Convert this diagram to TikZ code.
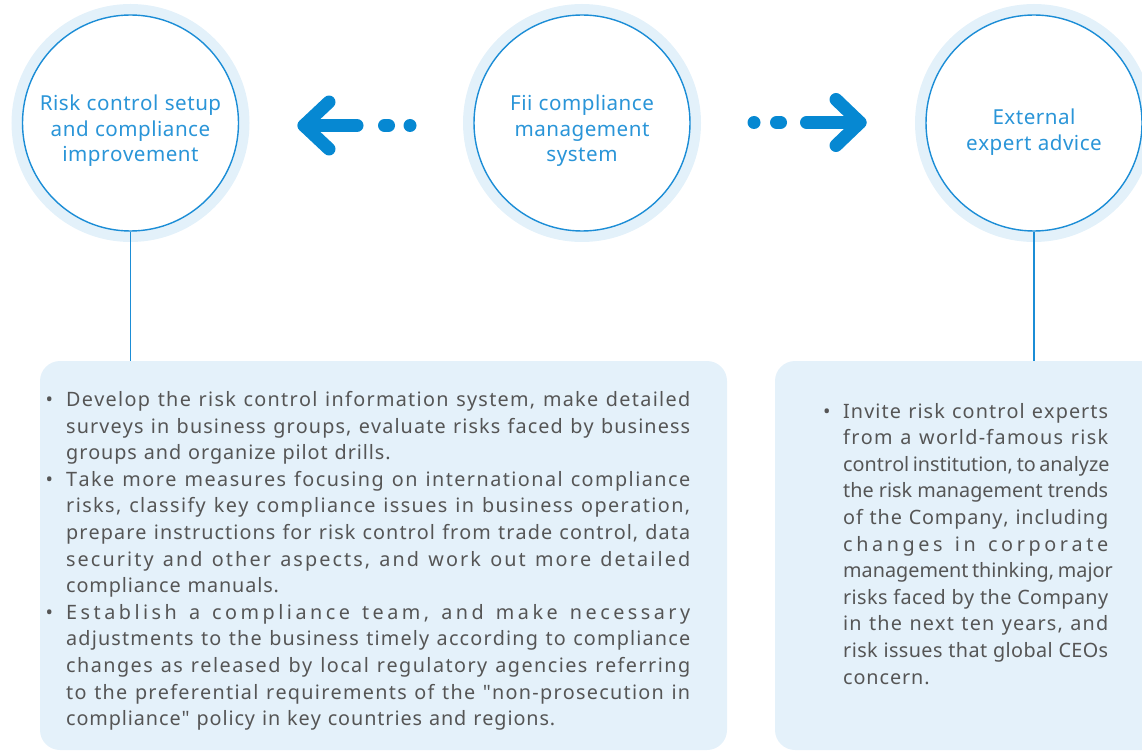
\documentclass[tikz,border=0pt]{standalone}
\usepackage{fontspec}
\setmainfont{Noto Sans}[Ligatures=TeXOff]
\definecolor{mainblue}{HTML}{0688D2}
\definecolor{ringblue}{HTML}{1B8DD6}
\definecolor{halo}{HTML}{E3F1FA}
\definecolor{boxfill}{HTML}{E4F1FA}
\definecolor{titleblue}{HTML}{2A95D8}
\definecolor{txtgray}{HTML}{555555}
\ExplSyntaxOn
\NewDocumentCommand\jline{m m}{\hbox to #1{\hfilneg \str_map_inline:nn {#2} {\hfil ##1}}}
\NewDocumentCommand\tline{O{0.9pt} m}{\str_map_inline:nn {#2} {##1\kern #1\relax}\kern -#1\relax}
\ExplSyntaxOff
\tikzset{
  ring/.style={circle, minimum size=216pt, inner sep=0pt, draw=ringblue, line width=1.4pt, fill=white,
    preaction={draw=halo, line width=22pt}},
  title/.style={align=center, text=titleblue, font=\fontsize{20.6}{25.5}\selectfont, inner sep=0pt},
  infobox/.style={rectangle, rounded corners=20pt, fill=boxfill, inner sep=0pt},
  body/.style={anchor=base west, text=txtgray, font=\fontsize{19.8}{24}\selectfont, inner sep=0pt},
  stem/.style={draw=ringblue, line width=1.2pt},
  arr/.style={draw=mainblue, line width=13pt, line cap=round, line join=round},
}
\begin{document}
\begin{tikzpicture}[x=1pt,y=-1pt]
\useasboundingbox (0,0) rectangle (1142,751);
% boxes
\node[infobox, minimum width=687pt, minimum height=389pt] (lbox) at (383.5,555.5) {};
\node[infobox, minimum width=387pt, minimum height=389pt] (rbox) at (968.5,555.5) {};
% circles
\node[ring] (lc) at (130.5,123) {};
\node[ring] (mc) at (582,123) {};
\node[ring] (rc) at (1034,123) {};
\node[title] (lt) at (130.5,131) {\tline[0.5pt]{Risk control setup}\\\tline[0.5pt]{and compliance}\\\tline[0.5pt]{improvement}};
\node[title] (mt) at (582,131) {\tline[0.5pt]{Fii compliance}\\\tline[0.5pt]{management}\\\tline[0.5pt]{system}};
\node[title] (rt) at (1034,132) {\tline[0.5pt]{External}\\\tline[0.5pt]{expert advice}};
% stems
\draw[stem] (lc.south) -- (lc.south |- lbox.north);
\draw[stem] (rc.south) -- (rc.south |- rbox.north);
% left arrow
\coordinate (la1) at (304,125.5);
\coordinate (la2) at (357,125.5);
\coordinate (la3) at (329,102);
\coordinate (la4) at (329,149);
\coordinate (ld1) at (384.5,125.5);
\coordinate (ld2) at (388.5,125.5);
\coordinate (ldot) at (410,125.5);
\draw[arr] (la2) -- (la1);
\draw[arr] (la3) -- (la1) -- (la4);
\draw[arr] (ld1) -- (ld2);
\fill[mainblue] (ldot) circle (6.5pt);
% right arrow
\coordinate (ra1) at (860,122.5);
\coordinate (ra2) at (806.5,122.5);
\coordinate (ra3) at (836,99.5);
\coordinate (ra4) at (836,145.5);
\coordinate (rd1) at (776.5,122.5);
\coordinate (rd2) at (780.5,122.5);
\coordinate (rdot) at (754,122.5);
\draw[arr] (ra2) -- (ra1);
\draw[arr] (ra3) -- (ra1) -- (ra4);
\draw[arr] (rd1) -- (rd2);
\fill[mainblue] (rdot) circle (6.5pt);
% left text
\node[body] (b1) at (45.5,406.5) {•};
\node[body] (b2) at (45.5,486.3) {•};
\node[body] (b3) at (45.5,619.3) {•};
\node[body] (l1) at (66,406.5) {\jline{624pt}{Develop the risk control information system, make detailed}};
\node[body] (l2) at (66,433.1) {\jline{624pt}{surveys in business groups, evaluate risks faced by business}};
\node[body] (l3) at (66,459.7) {\tline{groups and organize pilot drills.}};
\node[body] (l4) at (66,486.3) {\jline{624pt}{Take more measures focusing on international compliance}};
\node[body] (l5) at (66,512.9) {\jline{624pt}{risks, classify key compliance issues in business operation,}};
\node[body] (l6) at (66,539.5) {\jline{624pt}{prepare instructions for risk control from trade control, data}};
\node[body] (l7) at (66,566.1) {\jline{624pt}{security and other aspects, and work out more detailed}};
\node[body] (l8) at (66,592.7) {\tline{compliance manuals.}};
\node[body] (l9) at (66,619.3) {\jline{624pt}{Establish a compliance team, and make necessary}};
\node[body] (l10) at (66,645.9) {\jline{624pt}{adjustments to the business timely according to compliance}};
\node[body] (l11) at (66,672.5) {\jline{624pt}{changes as released by local regulatory agencies referring}};
\node[body] (l12) at (66,699.1) {\jline{624pt}{to the preferential requirements of the "non-prosecution in}};
\node[body] (l13) at (66,725.7) {\tline{compliance" policy in key countries and regions.}};
% right text
\node[body] (rb1) at (823,418) {•};
\node[body] (r1) at (843,418) {\jline{265pt}{Invite risk control experts}};
\node[body] (r2) at (843,444.6) {\jline{265pt}{from a world-famous risk}};
\node[body] (r3) at (843,471.2) {\jline{265pt}{control institution, to analyze}};
\node[body] (r4) at (843,497.8) {\jline{265pt}{the risk management trends}};
\node[body] (r5) at (843,524.4) {\jline{265pt}{of the Company, including}};
\node[body] (r6) at (843,551.0) {\jline{265pt}{changes in corporate}};
\node[body] (r7) at (843,577.6) {\jline{265pt}{management thinking, major}};
\node[body] (r8) at (843,604.2) {\jline{265pt}{risks faced by the Company}};
\node[body] (r9) at (843,630.8) {\jline{265pt}{in the next ten years, and}};
\node[body] (r10) at (843,657.4) {\jline{265pt}{risk issues that global CEOs}};
\node[body] (r11) at (843,684) {\tline{concern.}};
\end{tikzpicture}
\end{document}
